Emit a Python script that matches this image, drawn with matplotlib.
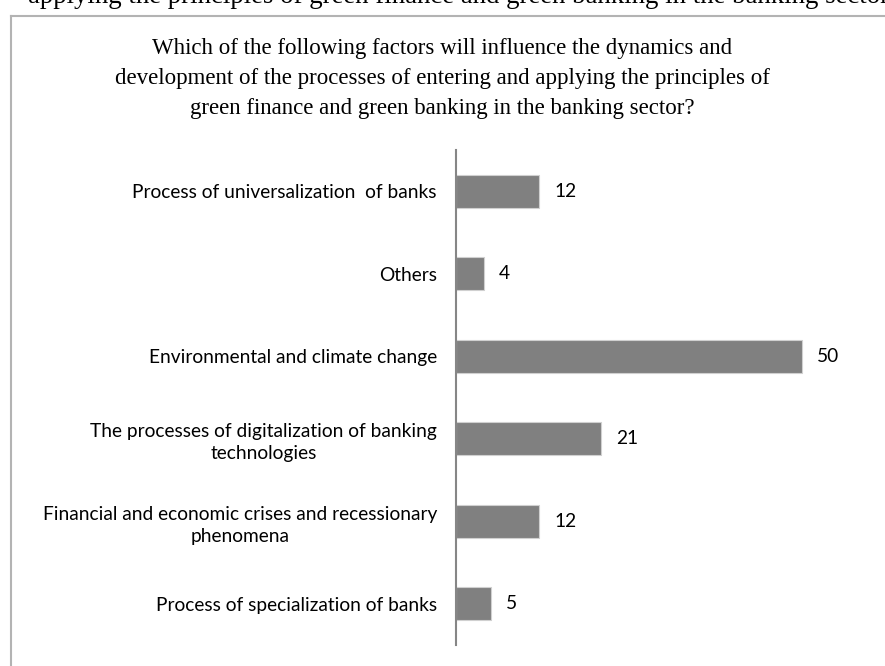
import matplotlib.pyplot as plt
from matplotlib.lines import Line2D

# survey answers, listed top to bottom
factors = [
    "Process of universalization  of banks",
    "Others",
    "Environmental and climate change",
    "The processes of digitalization of banking\ntechnologies",
    "Financial and economic crises and recessionary\nphenomena",
    "Process of specialization of banks",
]
counts = [12, 4, 50, 21, 12, 5]

title = ("Which of the following factors will influence the dynamics and\n"
         "development of the processes of entering and applying the principles of\n"
         "green finance and green banking in the banking sector?")
caption = "applying the principles of green finance and green banking in the banking sector"

dpi = 100
fig = plt.figure(figsize=(885 / dpi, 666 / dpi), dpi=dpi)

# running text line above the chart frame
fig.text(28 / 885, 1 - 3 / 666, caption, fontsize=19.3, family="Liberation Serif",
         ha="left", va="baseline", color="black")

# chart frame (only top and left edges visible)
fig.add_artist(Line2D([11 / 885, 1.0], [1 - 16 / 666, 1 - 16 / 666], color="#b3b3b3", lw=1.5))
fig.add_artist(Line2D([11 / 885, 11 / 885], [0, 1 - 16 / 666], color="#b3b3b3", lw=1.5))

fig.text(442 / 885, 1 - 78.5 / 666, title, fontsize=16.5, family="Liberation Serif",
         ha="center", va="center", linespacing=1.55)

ax = fig.add_axes([456 / 885, 1 - 645 / 666, (860 - 456) / 885, (645 - 150) / 666])
ypos = list(range(len(factors)))[::-1]
ax.barh(ypos, counts, height=0.4, color="#808080", edgecolor="#d0d0d0", linewidth=0.8)
for y, v in zip(ypos, counts):
    ax.text(v + 2.2, y, str(v), va="center", ha="left", fontsize=13.8, family="Lato")

ax.set_xlim(0, (860 - 456) / 6.92)
ax.set_ylim(-0.5, len(factors) - 0.5)
ax.set_yticks(ypos)
ax.set_yticklabels(factors, fontsize=13.8, family="Lato")
for lbl in ax.get_yticklabels():
    lbl.set_multialignment("center")
    lbl.set_linespacing(1.35)
ax.tick_params(axis="y", length=0, pad=13.7)
ax.set_xticks([])
for side in ["top", "right", "bottom"]:
    ax.spines[side].set_visible(False)
ax.spines["left"].set_color("#868686")
ax.spines["left"].set_linewidth(1.5)

fig.savefig("out.png", dpi=dpi)
